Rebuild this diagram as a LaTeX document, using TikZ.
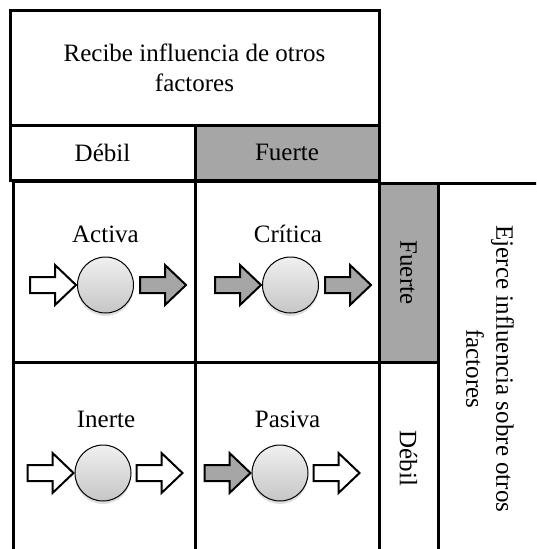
\documentclass[tikz,border=0pt]{standalone}
\usepackage{fontspec}
\setmainfont{Liberation Serif}
\usepackage{tikz}
\usetikzlibrary{shadows}
\definecolor{cellgray}{RGB}{166,166,166}
\definecolor{ballhi}{RGB}{240,240,240}
\definecolor{balllo}{RGB}{198,198,198}

\begin{document}
\begin{tikzpicture}[x=1pt, y=-1pt, every node/.style={font=\fontsize{25}{30}\selectfont,align=center},
 cell/.style={draw, line width=3pt, inner sep=0pt},
 strong/.style={cell, fill=cellgray},
 ball/.style={circle, draw, line width=1pt, minimum size=56pt, inner sep=0pt, top color=ballhi, bottom color=balllo,
   drop shadow={opacity=0.25, shadow xshift=0pt, shadow yshift=-3pt}},
 blockarrow/.pic={\draw[line width=2pt, miter limit=10, fill=#1] (-46,-8) -- (-21,-8) -- (-21,-20) -- (0,0) -- (-21,20) -- (-21,8) -- (-46,8) -- cycle;}]
\path[use as bounding box, clip] (0,0) rectangle (536,549);
% header of the columns
\node[cell, minimum width=369pt, minimum height=115pt] (recibe) at (194.5,67.5) {Recibe influencia de otros\\factores};
\node[cell, minimum width=185pt, minimum height=55pt] (coldebil) at (102.5,152.5) {Débil};
\node[strong, minimum width=184pt, minimum height=55pt] (colfuerte) at (287,152.5) {Fuerte};
% the four cells
\node[cell, minimum width=182pt, minimum height=181pt] (activa) at (104,271.5) {};
\node[cell, minimum width=184pt, minimum height=181pt] (critica) at (287,271.5) {};
\node[cell, minimum width=182pt, minimum height=193pt] (inerte) at (104,458.5) {};
\node[cell, minimum width=184pt, minimum height=193pt] (pasiva) at (287,458.5) {};
% header of the rows
\node[strong, rotate=-90, minimum width=179pt, minimum height=59pt] (rowfuerte) at (408.5,272.5) {Fuerte};
\node[cell, rotate=-90, minimum width=193pt, minimum height=59pt] (rowdebil) at (408.5,458.5) {Débil};
\node[cell, rotate=-90, minimum width=372pt, minimum height=104pt] (ejerce) at (490,369) {Ejerce influencia sobre otros\\factores};
% labels
\node[anchor=base] (lact) at (105.5,242) {Activa};
\node[anchor=base] (lcri) at (288,242) {Crítica};
\node[anchor=base] (line) at (106,427) {Inerte};
\node[anchor=base] (lpas) at (287.5,427) {Pasiva};
% factors with their influence
\node[ball] (bact) at (105.5,285) {};
\node[ball] (bcri) at (290.5,285) {};
\node[ball] (bine) at (103,473) {};
\node[ball] (bpas) at (280,473) {};
\pic at ([xshift=-1pt]bact.west) {blockarrow=white};
\pic at ([xshift=52pt]bact.east) {blockarrow=cellgray};
\pic at ([xshift=-1pt]bcri.west) {blockarrow=cellgray};
\pic at ([xshift=52pt]bcri.east) {blockarrow=cellgray};
\pic at ([xshift=-1pt]bine.west) {blockarrow=white};
\pic at ([xshift=51pt]bine.east) {blockarrow=white};
\pic at ([xshift=-1pt]bpas.west) {blockarrow=cellgray};
\pic at ([xshift=51pt]bpas.east) {blockarrow=white};
\end{tikzpicture}
\end{document}
